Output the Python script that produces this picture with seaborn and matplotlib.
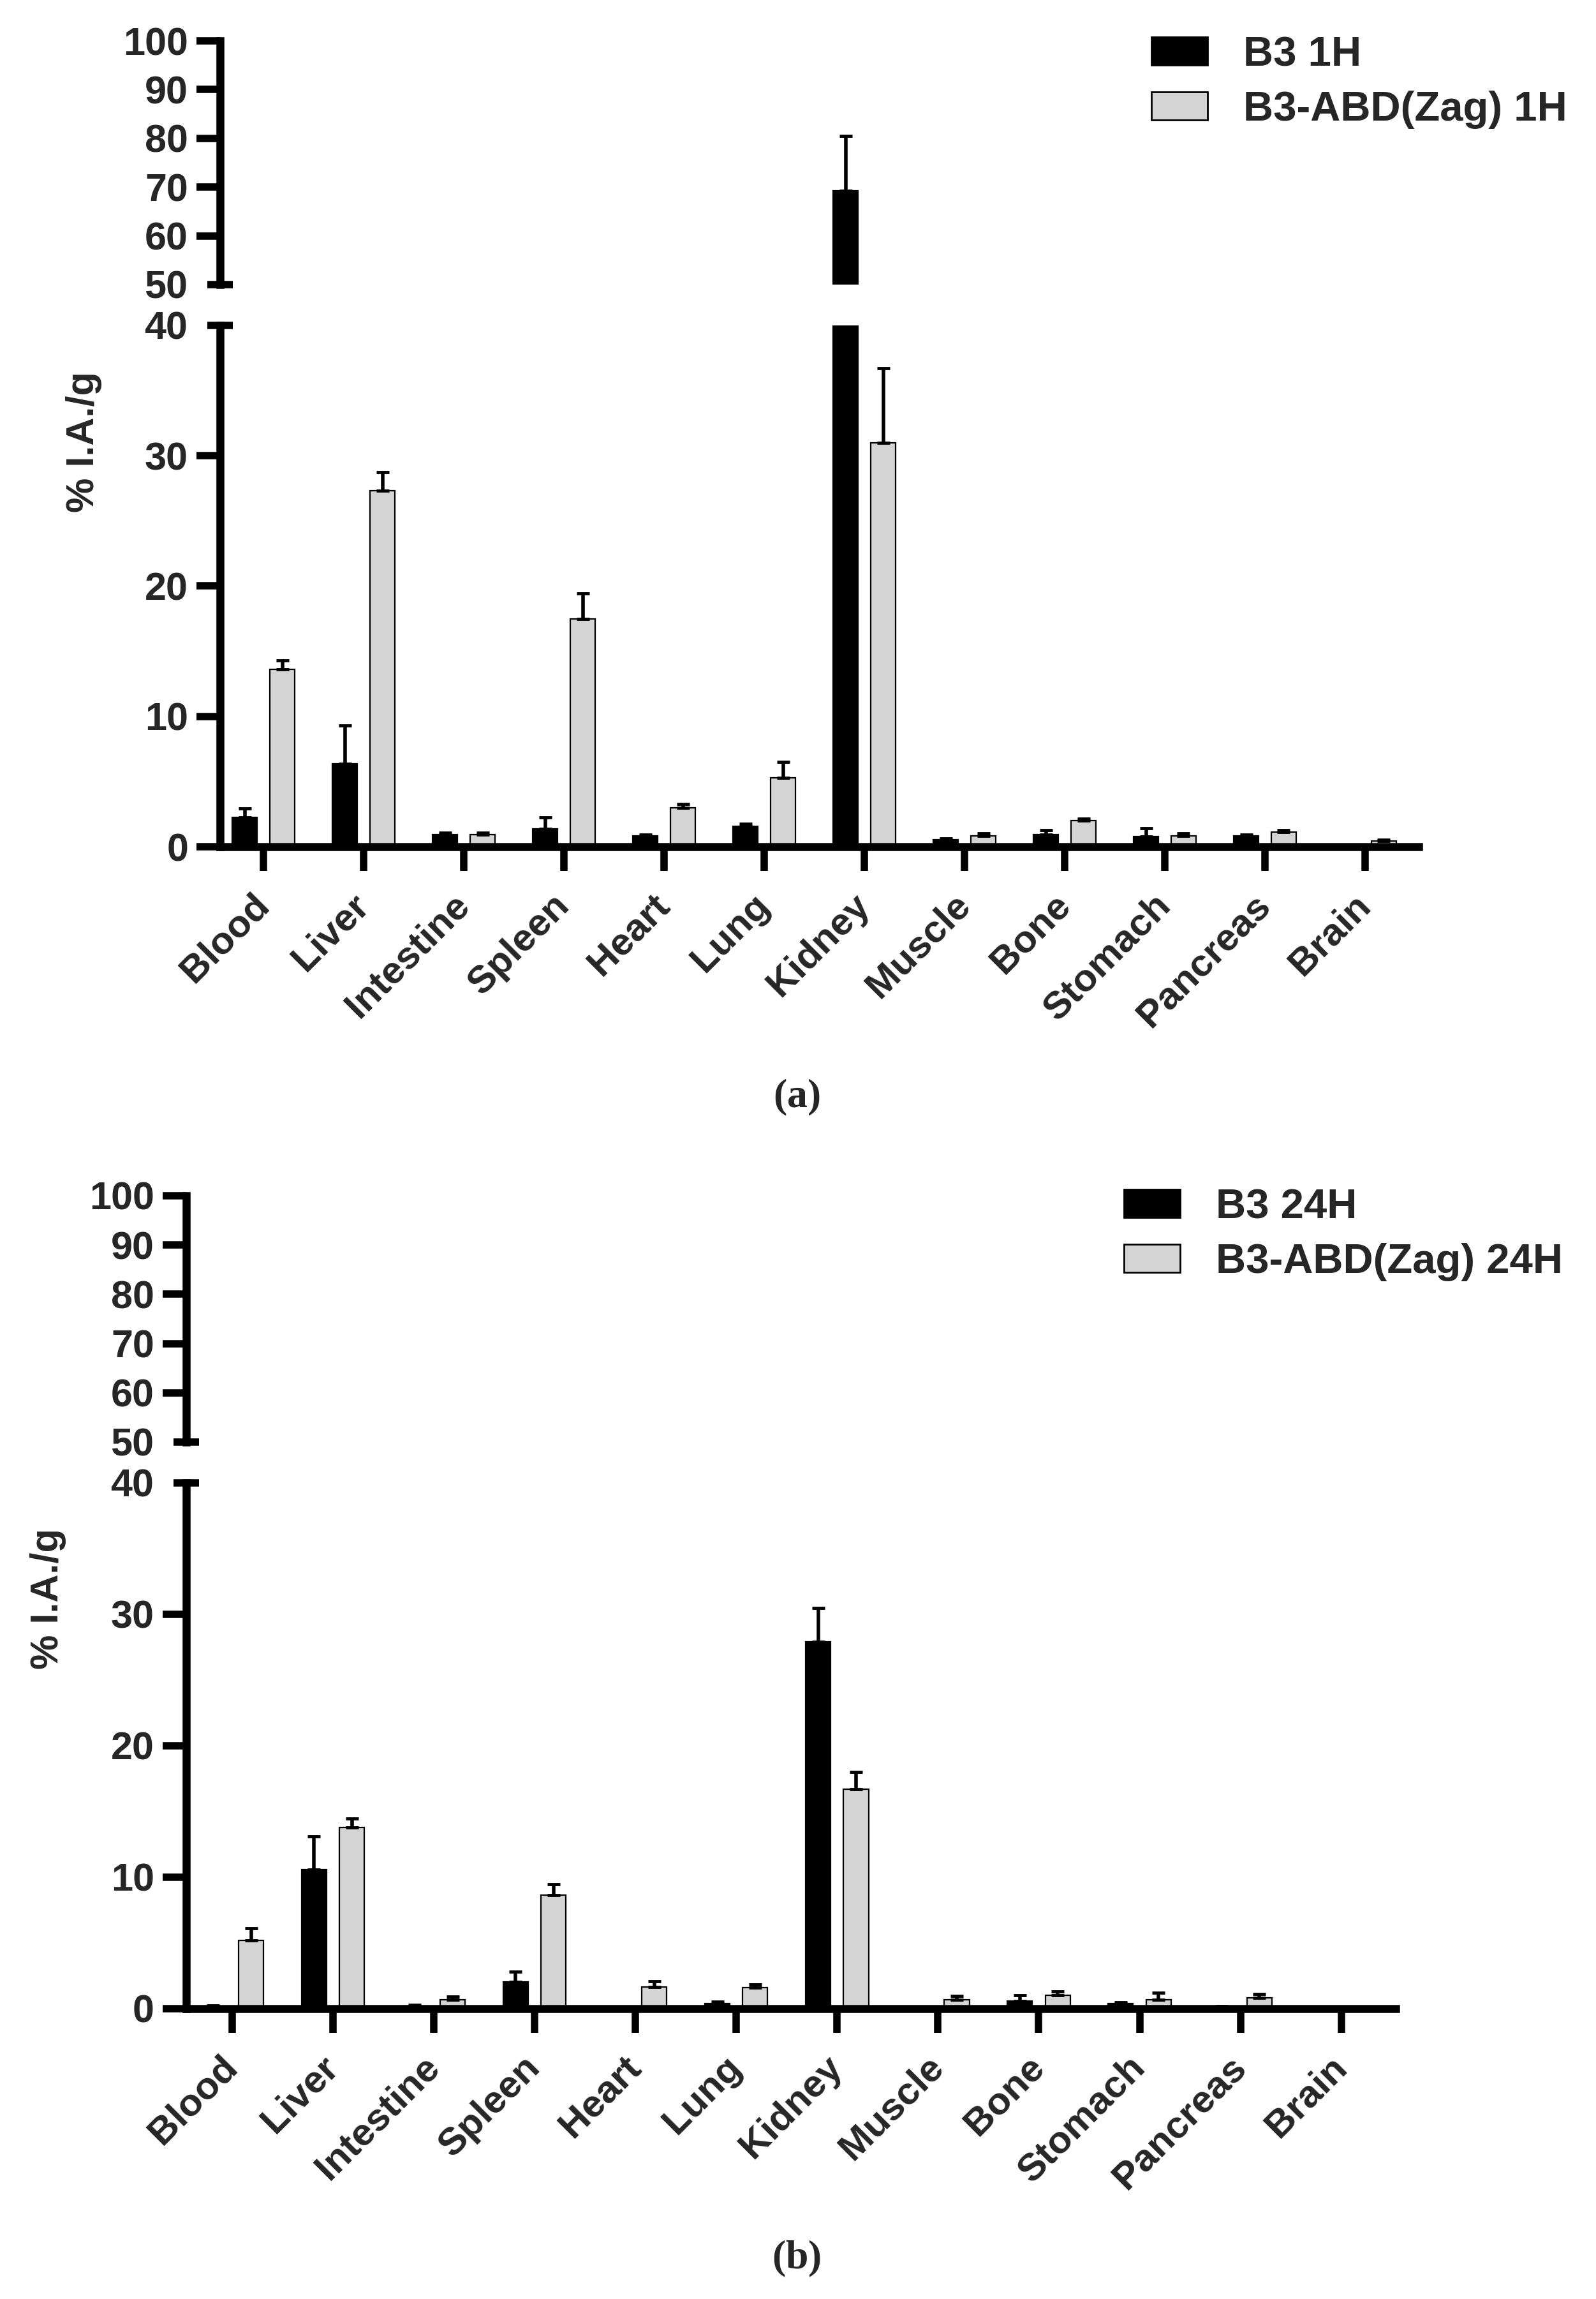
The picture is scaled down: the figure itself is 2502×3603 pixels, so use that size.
import numpy as np
import pandas as pd
import matplotlib
matplotlib.use("Agg")
import matplotlib.pyplot as plt
from matplotlib.ticker import FixedLocator, FixedFormatter
import seaborn as sns

# ---------------- data ----------------
organs = ["Blood", "Liver", "Intestine", "Spleen", "Heart", "Lung", "Kidney",
          "Muscle", "Bone", "Stomach", "Pancreas", "Brain"]

# panel (a): 1 h
b3_1h_mean = [2.25, 6.35, 0.95, 1.35, 0.83, 1.55, 69.3, 0.55, 0.95, 0.80, 0.85, 0.05]
b3_1h_sd = [0.70, 2.95, 0.15, 0.90, 0.08, 0.22, 11.2, 0.08, 0.30, 0.60, 0.08, 0.03]
zag_1h_mean = [13.6, 27.3, 0.95, 17.5, 3.00, 5.30, 31.0, 0.82, 2.00, 0.83, 1.15, 0.45]
zag_1h_sd = [0.70, 1.45, 0.15, 1.95, 0.27, 1.20, 5.70, 0.20, 0.17, 0.20, 0.10, 0.10]

# panel (b): 24 h
b3_24h_mean = [0.15, 10.6, 0.20, 2.05, 0.10, 0.40, 27.9, 0.10, 0.60, 0.40, 0.15, 0.05]
b3_24h_sd = [0.08, 2.50, 0.10, 0.75, 0.05, 0.12, 2.60, 0.05, 0.40, 0.10, 0.05, 0.02]
zag_24h_mean = [5.20, 13.8, 0.68, 8.65, 1.65, 1.60, 16.7, 0.66, 1.00, 0.66, 0.84, 0.10]
zag_24h_sd = [0.90, 0.65, 0.22, 0.80, 0.45, 0.25, 1.30, 0.29, 0.30, 0.55, 0.30, 0.05]

labels_a = ["B3 1H", "B3-ABD(Zag) 1H"]
labels_b = ["B3 24H", "B3-ABD(Zag) 24H"]

upper_ticks = [60, 70, 80, 90, 100]
lower_ticks = [0, 10, 20, 30]
break_top_tick = 50
break_low_tick = 40

# ---------------- style ----------------
sns.set_theme(style="white")
plt.rcParams["font.family"] = ["Liberation Sans", "DejaVu Sans"]
plt.rcParams["font.weight"] = "bold"
plt.rcParams["mathtext.fontset"] = "custom"
plt.rcParams["mathtext.rm"] = "Liberation Serif"
plt.rcParams["mathtext.bf"] = "Liberation Serif:bold"

BLACK = "#000000"
GRAY = "#d4d4d4"
W, H = 2502, 3603
fig = plt.figure(figsize=(W / 100, H / 100), dpi=100)

SPINE_LW = 9
TICK_W = 8.3
YLAB = 44
XLAB = 43.5


def panel(b3m, b3s, zm, zs, labels, left_px, right_px, up_top_px, up_bot_px,
          lo_top_px, lo_bot_px, xlim, legend_xy, ylabel_xy, caption, caption_xy):
    l = left_px / W
    w = (right_px - left_px) / W
    ax_up = fig.add_axes([l, 1 - up_bot_px / H, w, (up_bot_px - up_top_px) / H])
    ax_lo = fig.add_axes([l, 1 - lo_bot_px / H, w, (lo_bot_px - lo_top_px) / H])

    df = pd.DataFrame({
        "organ": organs * 2,
        "group": [labels[0]] * len(organs) + [labels[1]] * len(organs),
        "value": list(b3m) + list(zm),
        "sd": list(b3s) + list(zs),
    })

    for ax, show_leg in ((ax_up, False), (ax_lo, True)):
        sns.barplot(data=df, x="organ", y="value", hue="group", order=organs,
                    hue_order=labels, palette=[BLACK, GRAY], saturation=1,
                    width=0.75, gap=0.34, edgecolor="black", linewidth=1.6,
                    errorbar=None, legend=show_leg, ax=ax)
        conts = list(ax.containers)
        for cont, sds in zip(conts, (b3s, zs)):
            xs = [b.get_x() + b.get_width() / 2 for b in cont]
            ys = [b.get_height() for b in cont]
            ax.errorbar(xs, ys, yerr=[np.zeros(len(sds)), sds], fmt="none",
                        ecolor="black", elinewidth=4, capsize=7.5, capthick=3.5,
                        zorder=3)
        ax.set_xlim(*xlim)
        ax.set_xlabel("")
        ax.set_ylabel("")
        for s in ("top", "right"):
            ax.spines[s].set_visible(False)
        ax.spines["left"].set_linewidth(SPINE_LW)
        ax.spines["bottom"].set_linewidth(SPINE_LW)
        ax.spines["left"].set_color("black")
        ax.spines["bottom"].set_color("black")

    # upper segment
    ax_up.set_ylim(50, 100)
    ax_up.spines["bottom"].set_visible(False)
    ax_up.set_xticks([])
    ax_up.yaxis.set_major_locator(FixedLocator(upper_ticks))
    ax_up.yaxis.set_minor_locator(FixedLocator([break_top_tick]))
    ax_up.yaxis.set_minor_formatter(FixedFormatter([str(break_top_tick)]))

    # lower segment
    ax_lo.set_ylim(0, 40)
    ax_lo.yaxis.set_major_locator(FixedLocator(lower_ticks))
    ax_lo.yaxis.set_minor_locator(FixedLocator([break_low_tick]))
    ax_lo.yaxis.set_minor_formatter(FixedFormatter([str(break_low_tick)]))

    for ax in (ax_up, ax_lo):
        ax.tick_params(axis="y", which="major", direction="out", length=26.6,
                       width=TICK_W, pad=9.4, labelsize=YLAB, color="black",
                       left=True)
        ax.tick_params(axis="y", which="minor", direction="inout", length=29,
                       width=TICK_W, pad=22, labelsize=YLAB, color="black",
                       left=True)
    ax_lo.tick_params(axis="x", which="major", direction="out", length=27,
                      width=TICK_W, pad=33, labelsize=XLAB, color="black",
                      bottom=True)
    for t in ax_lo.get_xticklabels():
        t.set_rotation(45)
        t.set_ha("right")
        t.set_va("center")
        t.set_rotation_mode("anchor")
        t.set_fontweight("bold")
    for t in ax_lo.get_yticklabels(which="both") + ax_up.get_yticklabels(which="both"):
        t.set_fontweight("bold")

    sns.move_legend(ax_lo, "upper left", bbox_to_anchor=legend_xy,
                    bbox_transform=fig.transFigure, frameon=False, title=None,
                    fontsize=47, handlelength=1.35, handleheight=0.66,
                    handletextpad=0.86, labelspacing=0.4, borderpad=0,
                    borderaxespad=0)
    leg = ax_lo.get_legend()
    for h in leg.legend_handles:
        h.set_edgecolor("black")
        h.set_linewidth(2)
    for t in leg.get_texts():
        t.set_fontweight("bold")

    fig.text(ylabel_xy[0] / W, 1 - ylabel_xy[1] / H, "% I.A./g", rotation=90,
             ha="center", va="center", fontsize=44, fontweight="bold")
    fig.text(caption_xy[0] / W, 1 - caption_xy[1] / H, caption,
             ha="center", va="center", fontsize=46)


panel(b3_1h_mean, b3_1h_sd, zag_1h_mean, zag_1h_sd, labels_a,
      left_px=345, right_px=2224, up_top_px=64, up_bot_px=446,
      lo_top_px=510, lo_bot_px=1327, xlim=(-0.435, 11.535),
      legend_xy=(1805 / W, 1 - 56 / H), ylabel_xy=(132, 693),
      caption=r"$\mathrm{(}\mathbf{a}\mathrm{)}$", caption_xy=(1249, 1720))

panel(b3_24h_mean, b3_24h_sd, zag_24h_mean, zag_24h_sd, labels_b,
      left_px=292, right_px=2188, up_top_px=1874, up_bot_px=2260,
      lo_top_px=2324, lo_bot_px=3148, xlim=(-0.455, 11.54),
      legend_xy=(1762 / W, 1 - 1862 / H), ylabel_xy=(76, 2506),
      caption=r"$\mathrm{(}\mathbf{b}\mathrm{)}$", caption_xy=(1249, 3540))

fig.savefig("out.png", dpi=100, facecolor="white")
